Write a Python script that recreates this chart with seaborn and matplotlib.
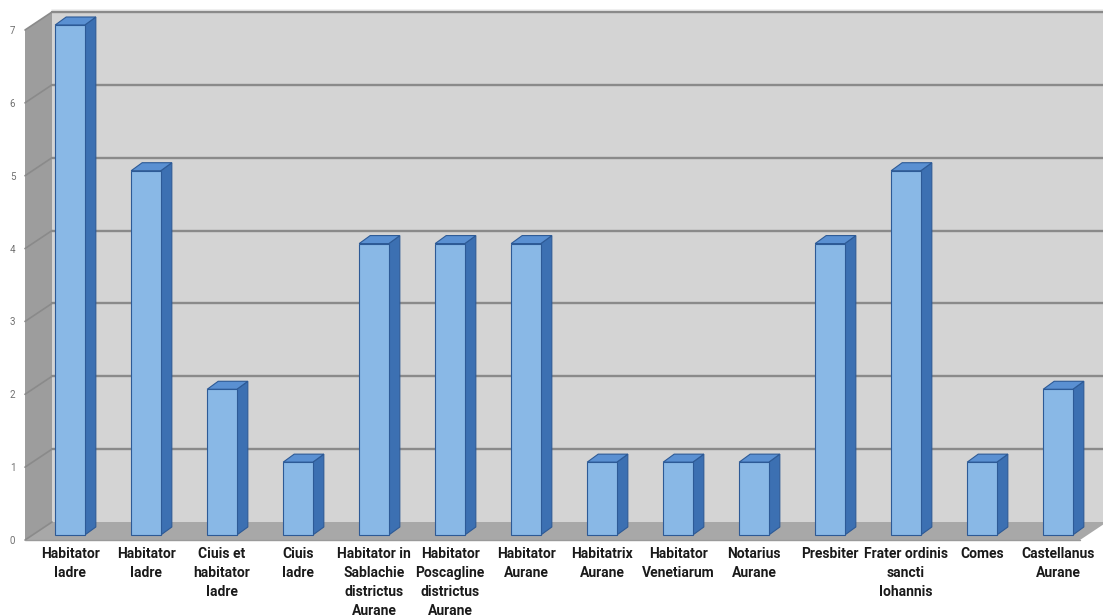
import numpy as np
import pandas as pd
import seaborn as sns
import matplotlib.pyplot as plt
from matplotlib.patches import Polygon

categories = [
    "Habitator\nIadre",
    "Habitator\nIadre",
    "Ciuis et\nhabitator\nIadre",
    "Ciuis\nIadre",
    "Habitator in\nSablachie\ndistrictus\nAurane",
    "Habitator\nPoscagline\ndistrictus\nAurane",
    "Habitator\nAurane",
    "Habitatrix\nAurane",
    "Habitator\nVenetiarum",
    "Notarius\nAurane",
    "Presbiter",
    "Frater ordinis\nsancti\nIohannis",
    "Comes",
    "Castellanus\nAurane",
]
counts = [7, 5, 2, 1, 4, 4, 4, 1, 1, 1, 4, 5, 1, 2]
y_ticks = [0, 1, 2, 3, 4, 5, 6, 7]

sns.set_theme(style="white")
plt.rcParams['font.family'] = ['Roboto', 'DejaVu Sans']

W, H = 1103, 616
fig = plt.figure(figsize=(W / 100, H / 100), dpi=100)
fig.patch.set_facecolor("white")
L, R, B, T = 25, 1080, 540, 30
ax = fig.add_axes([L / W, 1 - B / H, (R - L) / W, (B - T) / H])
ax.set_facecolor("none")

df = pd.DataFrame({"pos": list(range(len(counts))), "count": counts})
sns.barplot(data=df, x="pos", y="count", color="#89b8e6", saturation=1,
            width=0.39, edgecolor="#2d5a96", linewidth=0.8, ax=ax, zorder=3)
bars = list(ax.patches)

ux = 76.0
uy = (B - T) / 7.0
x0 = -(70 - L) / ux
ax.set_xlim(x0, x0 + (R - L) / ux)
ax.set_ylim(0, 7)
xl, xr = ax.get_xlim()

def d(px, py):
    return px / ux, py / uy

bx, by = d(27, 18)
ymax = y_ticks[-1]

# walls
ax.add_patch(Polygon([(xl, 0), (xl, ymax), (xl + bx, ymax + by), (xl + bx, by)],
                     closed=True, fc="#9d9d9d", ec="none", clip_on=False, zorder=0.1))
ax.add_patch(Polygon([(xl + bx, by), (xl + bx, ymax + by), (xr + bx + 1, ymax + by), (xr + bx + 1, by)],
                     closed=True, fc="#d4d4d4", ec="none", clip_on=False, zorder=0.1))
ax.add_patch(Polygon([(xl, 0), (xr, 0), (xr + bx, by), (xl + bx, by)],
                     closed=True, fc="#a8a8a8", ec="none", clip_on=False, zorder=0.2))
# light top border of back wall
ax.plot([xl + bx, xr + bx + 1], [ymax + by + 2 / uy, ymax + by + 2 / uy],
        color="#ececec", lw=1.2, clip_on=False, zorder=0.3)

# gridlines
for v in y_ticks:
    if v > 0:
        ax.plot([xl + bx, xr + bx + 1], [v + by, v + by], color="#8a8a8a", lw=1.7,
                clip_on=False, zorder=0.5)
    ax.plot([xl, xl + bx], [v, v + by], color="#8a8a8a", lw=1.2, clip_on=False, zorder=0.5)
ax.plot([xl, xr], [0, 0], color="#9a9a9a", lw=1.0, clip_on=False, zorder=0.5)

# 3D bar faces
sy = 5 / uy
dx, dy = d(11, 8)
for p in bars:
    p.set_y(p.get_y() + sy)
    p.set_clip_on(False)
    px0 = p.get_x()
    px1 = px0 + p.get_width()
    yb = p.get_y()
    yt = yb + p.get_height()
    ax.add_patch(Polygon([(px1, yb), (px1, yt), (px1 + dx, yt + dy), (px1 + dx, yb + dy)],
                         closed=True, fc="#3c70b2", ec="#2d5a96", lw=0.8, clip_on=False, zorder=2.9))
    ax.add_patch(Polygon([(px0, yt), (px1, yt), (px1 + dx, yt + dy), (px0 + dx, yt + dy)],
                         closed=True, fc="#5a90d2", ec="#2d5a96", lw=0.8, clip_on=False, zorder=2.9))

for s in ax.spines.values():
    s.set_visible(False)
ax.set_xlabel("")
ax.set_ylabel("")
ax.set_yticks(y_ticks)
ax.set_yticklabels([str(t) for t in y_ticks], color="#707070", fontsize=7)
ax.set_xticks(range(len(categories)))
ax.set_xticklabels(categories, fontsize=10, fontweight="bold", color="#1a1a1a", linespacing=1.45)
ax.tick_params(axis="y", length=0, pad=7)
ax.tick_params(axis="x", length=0, pad=5)
ax.grid(False)

fig.savefig("out.png", dpi=100, facecolor="white")
